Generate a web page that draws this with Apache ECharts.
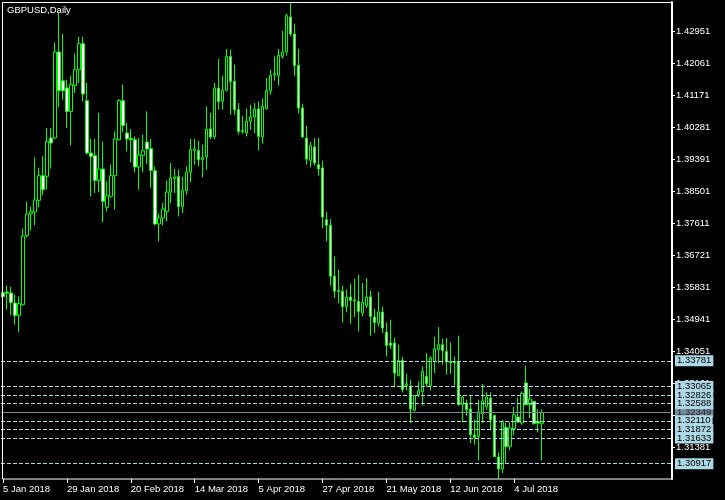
<!DOCTYPE html>
<html>
<head>
<meta charset="utf-8">
<script src="https://cdn.jsdelivr.net/npm/echarts@6/dist/echarts.min.js"></script>
<style>
html,body{margin:0;padding:0;background:#000;}
#chart{width:725px;height:500px;}
</style>
</head>
<body>
<div id="chart"></div>
<script>
const symbolTitle = 'GBPUSD,Daily';
const MONTHS = ['Jan','Feb','Mar','Apr','May','Jun','Jul','Aug','Sep','Oct','Nov','Dec'];

const open = [
1.35678,1.35697,1.35670,1.35391,1.35046,1.35344,1.37265,1.37877,1.37925,1.38248,
1.38935,1.38916,1.39985,1.39985,1.42379,1.41580,1.41377,1.40725,1.41449,1.41886,
1.42610,1.41023,1.39567,1.39492,1.38804,1.39122,1.38053,1.38359,1.38935,1.39937,
1.41023,1.40124,1.39974,1.39937,1.39177,1.39500,1.39873,1.39687,1.39074,1.37590,
1.37757,1.37941,1.38481,1.38860,1.38916,1.38080,1.38518,1.39027,1.39640,1.39640,
1.39381,1.39456,1.40235,1.40013,1.41377,1.41004,1.41310,1.42256,1.41560,1.40773,
1.40196,1.40124,1.40447,1.40569,1.40792,1.40013,1.40800,1.41293,1.41739,1.41728,
1.42256,1.42379,1.43353,1.42880,1.42006,1.40820,1.39985,1.39361,1.39734,1.39241,
1.39150,1.37710,1.37557,1.36137,1.35734,1.35714,1.35296,1.35558,1.35475,1.35436,
1.35113,1.35316,1.35558,1.35001,1.34834,1.35141,1.34584,1.34278,1.34278,1.33367,
1.33793,1.33089,1.33069,1.32401,1.32838,1.32930,1.33348,1.33089,1.33765,1.34091,
1.34230,1.34044,1.33765,1.33757,1.33765,1.32560,1.32607,1.32440,1.31716,1.31677,
1.32301,1.32504,1.32746,1.32262,1.31104,1.30770,1.31928,1.31399,1.31892,1.32217,
1.32050,1.33164,1.32560,1.32652,1.32087,1.32031];

const high = [
1.35734,1.35873,1.35845,1.35622,1.35575,1.37460,1.38211,1.38072,1.39445,1.39158,
1.39472,1.40263,1.40263,1.42646,1.43481,1.42888,1.41608,1.41719,1.42332,1.42797,
1.42797,1.41516,1.39957,1.39957,1.40681,1.39890,1.38776,1.39241,1.40168,1.41070,
1.41469,1.40402,1.40235,1.40029,1.39985,1.40077,1.40725,1.39957,1.39194,1.37877,
1.38175,1.38796,1.39289,1.39122,1.39102,1.38899,1.39194,1.39957,1.39957,1.39910,
1.39798,1.40864,1.40681,1.41516,1.42184,1.41719,1.42462,1.42443,1.42025,1.40959,
1.40606,1.40800,1.40912,1.40959,1.41004,1.41079,1.41655,1.41886,1.42256,1.42462,
1.42972,1.43445,1.43760,1.43167,1.42462,1.40940,1.40327,1.39873,1.39985,1.39985,
1.39353,1.37925,1.37730,1.36688,1.36318,1.35873,1.35761,1.35928,1.36068,1.36179,
1.35948,1.36087,1.35734,1.35232,1.35697,1.35296,1.34851,1.34926,1.34425,1.34230,
1.33888,1.33423,1.33256,1.32810,1.33208,1.33626,1.33999,1.33904,1.34445,1.34723,
1.34389,1.34417,1.34294,1.33904,1.34481,1.32810,1.32699,1.32810,1.32142,1.32699,
1.33136,1.32908,1.32908,1.32281,1.31223,1.32128,1.32050,1.32078,1.32496,1.32763,
1.32930,1.33646,1.33005,1.32657,1.32440,1.32421];

const low = [
1.35483,1.35205,1.35046,1.34787,1.34573,1.35324,1.37217,1.37412,1.37551,1.38053,
1.38387,1.38545,1.39130,1.39965,1.40848,1.41051,1.40263,1.39779,1.41238,1.41516,
1.41004,1.39520,1.38359,1.38454,1.38470,1.37635,1.37941,1.38331,1.37989,1.39923,
1.40141,1.39612,1.39305,1.39027,1.38545,1.39027,1.39269,1.38593,1.37551,1.37106,
1.37551,1.37663,1.38175,1.38454,1.37802,1.37897,1.38406,1.38749,1.39241,1.39194,
1.38888,1.39102,1.39957,1.39957,1.40773,1.40773,1.41282,1.40633,1.40633,1.40077,
1.40104,1.40029,1.40216,1.40124,1.39640,1.39826,1.40773,1.41190,1.41580,1.41441,
1.42192,1.42276,1.42813,1.41719,1.40661,1.39993,1.39241,1.39166,1.39222,1.38935,
1.37474,1.37106,1.35873,1.35530,1.35391,1.34851,1.35129,1.34815,1.35001,1.34600,
1.35018,1.35252,1.34481,1.34556,1.34740,1.34556,1.33904,1.34110,1.33041,1.33348,
1.32902,1.32958,1.32050,1.32373,1.32774,1.32532,1.33053,1.32958,1.33442,1.33721,
1.33673,1.33395,1.33415,1.33089,1.32532,1.32067,1.32254,1.31494,1.31446,1.31009,
1.32050,1.32421,1.31883,1.31104,1.30500,1.30658,1.30937,1.31288,1.31705,1.32050,
1.32003,1.32540,1.32189,1.32003,1.31789,1.31009];

const close = [
1.35567,1.35670,1.35408,1.35046,1.35372,1.37256,1.37869,1.37933,1.38259,1.38935,
1.38545,1.39890,1.39846,1.42379,1.41302,1.41302,1.40725,1.41469,1.41886,1.42610,
1.41210,1.39567,1.39472,1.38804,1.39122,1.38220,1.38378,1.38935,1.39957,1.41031,
1.40335,1.39957,1.39937,1.39177,1.39511,1.39631,1.39679,1.39083,1.37590,1.37757,
1.38008,1.38481,1.38871,1.38899,1.38080,1.38526,1.39038,1.39659,1.39679,1.39381,
1.39445,1.40235,1.40013,1.41377,1.41004,1.41310,1.42256,1.41560,1.40773,1.40168,
1.40168,1.40447,1.40569,1.40792,1.40029,1.40864,1.41302,1.41728,1.41775,1.42284,
1.42379,1.43390,1.42880,1.42006,1.40820,1.40013,1.39400,1.39770,1.39289,1.39122,
1.37785,1.37557,1.36137,1.35720,1.35714,1.35296,1.35558,1.35464,1.35455,1.35157,
1.35408,1.35558,1.35018,1.34851,1.35141,1.34695,1.34211,1.34211,1.33442,1.33793,
1.32977,1.33144,1.32440,1.32810,1.32950,1.33487,1.33144,1.33860,1.34110,1.34230,
1.34071,1.33765,1.33729,1.33729,1.32560,1.32774,1.32421,1.31725,1.31649,1.32351,
1.32663,1.32774,1.32134,1.31112,1.30770,1.32087,1.31399,1.31911,1.32281,1.32078,
1.32872,1.32560,1.32718,1.32031,1.32045,1.32349];

const levelLines = [1.33781, 1.33065, 1.32826, 1.32588, 1.32110, 1.31872, 1.31633, 1.30917];
const currentPrice = 1.32349;

const yTickValues = [1.31381, 1.32271, 1.33161, 1.34051, 1.34941, 1.35831, 1.36721,
  1.37611, 1.38501, 1.39391, 1.40281, 1.41171, 1.42061, 1.42951];
const yMin = 1.30491;
const yMax = 1.43771;

const labelEvery = 16;
const shiftSlots = 32;

// trading-day calendar (weekdays) starting 5 Jan 2018
const categories = [];
let d = new Date(Date.UTC(2018, 0, 5));
while (categories.length < open.length) {
  const wd = d.getUTCDay();
  if (wd !== 0 && wd !== 6) {
    categories.push(d.getUTCDate() + ' ' + MONTHS[d.getUTCMonth()] + ' ' + d.getUTCFullYear());
  }
  d = new Date(d.getTime() + 86400000);
}
const xData = categories.slice();
for (let k = 0; k < shiftSlots; k++) xData.push('shift' + k);

const candleData = open.map((o, i) => [o, close[i], low[i], high[i]]);

const FONT = '"Liberation Sans", Arial, sans-serif';
const showLabel = (i) => i % labelEvery === 0 && i < open.length;

const markData = [
  {yAxis: currentPrice, lineStyle: {color: '#778899', type: 'solid', width: 1},
   label: {backgroundColor: '#778899', color: '#1a1a1a'}}
].concat(levelLines.map(v => ({
  yAxis: v, lineStyle: {color: '#add8e6', type: [4, 2], width: 1},
  label: {backgroundColor: '#add8e6', color: '#000'}
})));

const chart = echarts.init(document.getElementById('chart'), null, {renderer: 'canvas'});
chart.setOption({
  backgroundColor: '#000',
  animation: false,
  title: {
    text: symbolTitle, left: 7, top: 5, padding: 0,
    textStyle: {color: '#fff', fontSize: 9.5, fontWeight: 'normal', fontFamily: FONT}
  },
  grid: {left: 0, top: 2, width: 672, height: 477, containLabel: false},
  xAxis: {
    type: 'category', data: xData, boundaryGap: true,
    axisLine: {show: false},
    axisTick: {show: true, alignWithLabel: true, interval: (i) => showLabel(i), length: 4,
      lineStyle: {color: '#fff', width: 1}},
    axisLabel: {interval: (i) => showLabel(i), color: '#fff', fontSize: 9.5, fontFamily: FONT,
      align: 'left', margin: 5, hideOverlap: false},
    splitLine: {show: false}
  },
  yAxis: {
    type: 'value', position: 'right', min: yMin, max: yMax, scale: true,
    axisLine: {show: true, lineStyle: {color: '#fff', width: 2}},
    axisTick: {show: true, customValues: yTickValues, length: 3, lineStyle: {color: '#fff', width: 1}},
    axisLabel: {customValues: yTickValues, color: '#fff', fontSize: 9.5, fontFamily: FONT, margin: 4,
      formatter: (v) => Number(v).toFixed(5)},
    splitLine: {show: false}
  },
  series: [{
    type: 'candlestick',
    data: candleData,
    barWidth: 3,
    itemStyle: {
      color: '#000000', color0: '#ffffff',
      borderColor: '#00ff00', borderColor0: '#00ff00', borderColorDoji: '#00ff00',
      borderWidth: 1
    },
    markLine: {
      symbol: 'none', silent: true, animation: false, precision: 5,
      label: {show: true, position: 'end', distance: 3, fontSize: 9.5, fontFamily: FONT,
        padding: [1, 2, 1, 2], lineHeight: 9, verticalAlign: 'middle',
        formatter: (p) => Number(p.value).toFixed(5)},
      data: markData
    }
  }],
  graphic: [{
    type: 'rect', z: 100, silent: true,
    shape: {x: 2.5, y: 2.5, width: 669.5, height: 476.5},
    style: {fill: 'none', stroke: '#fff', lineWidth: 1}
  }]
});
</script>
</body>
</html>
